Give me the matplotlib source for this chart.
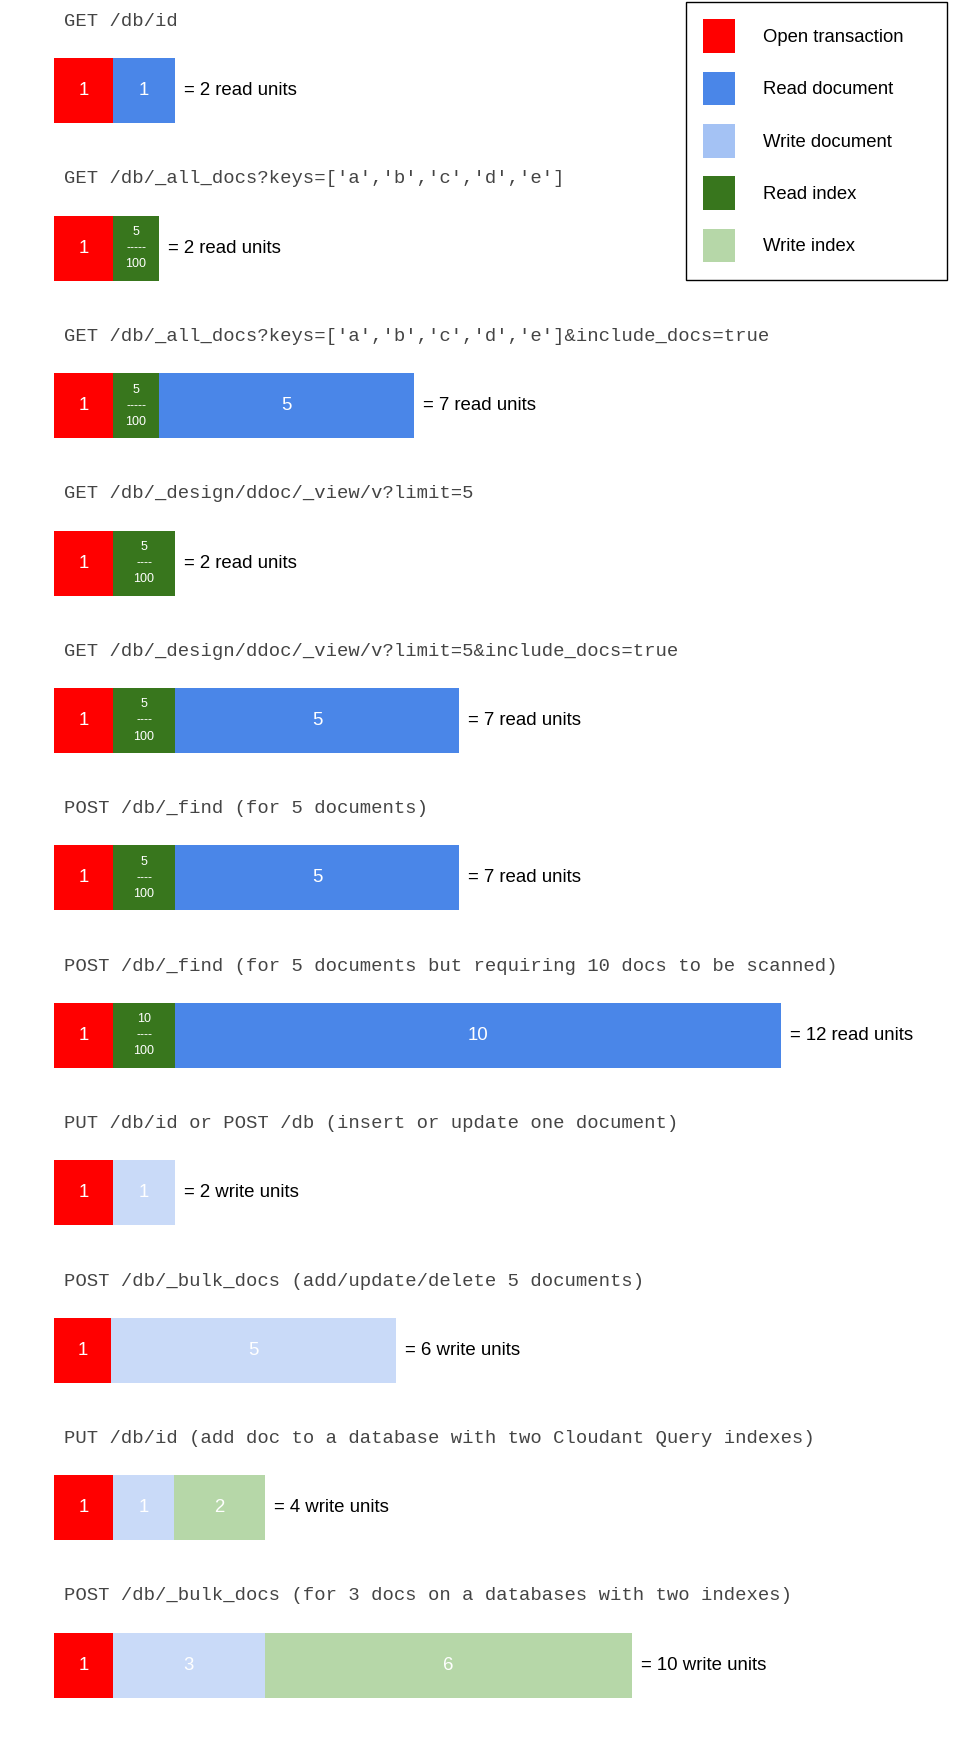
import matplotlib
matplotlib.use("Agg")
import matplotlib.pyplot as plt
from matplotlib.patches import Patch

plt.rcParams["font.family"] = ["Liberation Sans", "DejaVu Sans"]

# request lines above each bar
titles = [
    "GET /db/id",
    "GET /db/_all_docs?keys=['a','b','c','d','e']",
    "GET /db/_all_docs?keys=['a','b','c','d','e']&include_docs=true",
    "GET /db/_design/ddoc/_view/v?limit=5",
    "GET /db/_design/ddoc/_view/v?limit=5&include_docs=true",
    "POST /db/_find (for 5 documents)",
    "POST /db/_find (for 5 documents but requiring 10 docs to be scanned)",
    "PUT /db/id or POST /db (insert or update one document)",
    "POST /db/_bulk_docs (add/update/delete 5 documents)",
    "PUT /db/id (add doc to a database with two Cloudant Query indexes)",
    "POST /db/_bulk_docs (for 3 docs on a databases with two indexes)",
]

# segment kind per row
seg_kinds = [
    ["open", "rdoc"],
    ["open", "ridx"],
    ["open", "ridx", "rdoc"],
    ["open", "ridx"],
    ["open", "ridx", "rdoc"],
    ["open", "ridx", "rdoc"],
    ["open", "ridx", "rdoc"],
    ["open", "wdoc"],
    ["open", "wdoc"],
    ["open", "wdoc", "widx"],
    ["open", "wdoc", "widx"],
]

# segment lengths as drawn (in widths of the red block)
seg_widths = [
    [1.0, 1.04],
    [1.0, 0.77],
    [1.0, 0.77, 4.30],
    [1.0, 1.04],
    [1.0, 1.04, 4.79],
    [1.0, 1.04, 4.79],
    [1.0, 1.04, 10.21],
    [1.0, 1.04],
    [0.96, 4.81],
    [1.0, 1.02, 1.53],
    [1.0, 2.55, 6.19],
]

seg_labels = [
    ["1", "1"],
    ["1", "5\n-----\n100"],
    ["1", "5\n-----\n100", "5"],
    ["1", "5\n----\n100"],
    ["1", "5\n----\n100", "5"],
    ["1", "5\n----\n100", "5"],
    ["1", "10\n----\n100", "10"],
    ["1", "1"],
    ["1", "5"],
    ["1", "1", "2"],
    ["1", "3", "6"],
]

totals = ["= 2 read units", "= 2 read units", "= 7 read units", "= 2 read units",
          "= 7 read units", "= 7 read units", "= 12 read units", "= 2 write units",
          "= 6 write units", "= 4 write units", "= 10 write units"]

legend_keys = ["open", "rdoc", "wdoc", "ridx", "widx"]
legend_names = ["Open transaction", "Read document", "Write document", "Read index", "Write index"]

bar_colors = {"open": "#ff0000", "rdoc": "#4a86e8", "wdoc": "#c9daf8",
              "ridx": "#38761d", "widx": "#b6d7a8"}
legend_colors = {"open": "#ff0000", "rdoc": "#4a86e8", "wdoc": "#a4c2f4",
                 "ridx": "#38761d", "widx": "#b6d7a8"}

W, H = 957, 1757
fig = plt.figure(figsize=(W / 100, H / 100), dpi=100)
ax = fig.add_axes([0, 0, 1, 1])
ax.axis("off")

unit_px = 53 / 0.8924
x0_px = 48 / 0.8924
row_px = 140.5 / 0.8924
c0_px = 81 / 0.8924
ax.set_xlim(-x0_px / unit_px, (W - x0_px) / unit_px)
ax.set_ylim((H - c0_px) / row_px, -c0_px / row_px)

bar_h = 58 / 140.5
for i in range(len(titles)):
    ax.text(0.17, i - 0.44, titles[i], family=["Liberation Mono", "DejaVu Sans Mono"],
            fontsize=13.55, color="#444444", va="center", ha="left")
    left = 0
    for k, w, lab in zip(seg_kinds[i], seg_widths[i], seg_labels[i]):
        ax.barh(i, w, left=left, height=bar_h, color=bar_colors[k], linewidth=0)
        if "\n" in lab:
            ax.text(left + w / 2, i, lab, color="white", fontsize=9, ha="center",
                    va="center", linespacing=1.45)
        else:
            ax.text(left + w / 2, i, lab, color="white", fontsize=13.4, ha="center",
                    va="center")
        left += w
    ax.text(left + 0.15, i, totals[i], fontsize=13.4, color="black", ha="left", va="center")

handles = [Patch(facecolor=legend_colors[k], edgecolor="none") for k in legend_keys]
lx, ly, lw = 685.8, 3.4, 261.1
leg = fig.legend(handles, legend_names, loc="upper left",
                 bbox_to_anchor=(lx / W, 1 - ly / H, lw / W, 0.001), mode="expand",
                 fontsize=13.3, frameon=True, fancybox=False, edgecolor="black",
                 framealpha=1, handlelength=1.7, handleheight=2.42,
                 handletextpad=1.55, labelspacing=1.02, borderpad=0.95, borderaxespad=0)
leg.get_frame().set_linewidth(1.0)

fig.savefig("out.png", dpi=100)
